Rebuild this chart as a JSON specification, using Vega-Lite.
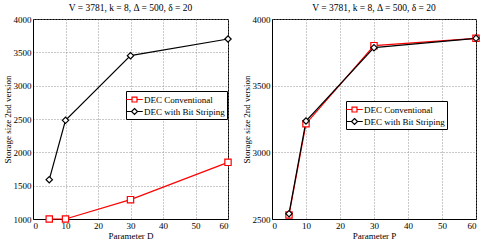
{
  "$schema": "https://vega.github.io/schema/vega-lite/v6.json",
  "padding": {"left": 2, "top": 2, "right": 4, "bottom": 0},
  "background": "white",
  "datasets": {
    "d": [
      {"x": 5, "y": 1000, "s": "DEC Conventional"},
      {"x": 10, "y": 1000, "s": "DEC Conventional"},
      {"x": 30, "y": 1290, "s": "DEC Conventional"},
      {"x": 60, "y": 1850, "s": "DEC Conventional"},
      {"x": 5, "y": 1590, "s": "DEC with Bit Striping"},
      {"x": 10, "y": 2480, "s": "DEC with Bit Striping"},
      {"x": 30, "y": 3450, "s": "DEC with Bit Striping"},
      {"x": 60, "y": 3700, "s": "DEC with Bit Striping"}
    ],
    "p": [
      {"x": 5, "y": 2530, "s": "DEC Conventional"},
      {"x": 10, "y": 3215, "s": "DEC Conventional"},
      {"x": 30, "y": 3800, "s": "DEC Conventional"},
      {"x": 60, "y": 3855, "s": "DEC Conventional"},
      {"x": 5, "y": 2540, "s": "DEC with Bit Striping"},
      {"x": 10, "y": 3235, "s": "DEC with Bit Striping"},
      {"x": 30, "y": 3785, "s": "DEC with Bit Striping"},
      {"x": 60, "y": 3855, "s": "DEC with Bit Striping"}
    ]
  },
  "config": {
    "font": "Liberation Serif",
    "view": {"stroke": "black", "strokeWidth": 1},
    "title": {"font": "Liberation Serif", "fontSize": 9.5, "fontWeight": "normal", "offset": 3, "color": "black"},
    "axis": {
      "labelFont": "Liberation Serif", "labelFontSize": 9, "labelColor": "black",
      "titleFont": "Liberation Serif", "titleFontSize": 9, "titleFontWeight": "normal", "titleColor": "black",
      "gridDash": [1, 2], "gridColor": "#888", "gridOpacity": 0.9,
      "tickColor": "black", "domainColor": "black", "tickSize": 0, "labelPadding": 2, "titlePadding": 1, "format": "d"
    },
    "legend": {
      "labelFont": "Liberation Serif", "labelFontSize": 9, "labelColor": "black",
      "strokeColor": "black", "fillColor": "white", "padding": 2, "rowPadding": 0, "labelOffset": 3,
      "symbolSize": 121, "symbolStrokeWidth": 1.2, "title": null
    }
  },
  "spacing": 6,
  "resolve": {"scale": {"y": "independent", "x": "independent", "color": "independent"}, "legend": {"color": "independent"}},
  "hconcat": [
    {
      "width": 195, "height": 200,
      "title": "V = 3781, k = 8, Δ = 500, δ = 20",
      "data": {"name": "d"},
      "encoding": {
        "x": {"field": "x", "type": "quantitative", "scale": {"domain": [0, 60], "nice": false}, "axis": {"values": [0, 10, 20, 30, 40, 50, 60], "title": "Parameter D"}},
        "y": {"field": "y", "type": "quantitative", "scale": {"domain": [1000, 4000], "nice": false}, "axis": {"values": [1000, 1500, 2000, 2500, 3000, 3500, 4000], "title": "Storage size 2nd version"}},
        "color": {"field": "s", "type": "nominal", "scale": {"domain": ["DEC Conventional", "DEC with Bit Striping"], "range": ["#ff0000", "#000000"]},
          "legend": {"orient": "none", "legendX": 93, "legendY": 72,
            "encode": {"symbols": {"update": {"fill": {"value": "white"}, "fillOpacity": {"value": 0}, "shape": {"signal": "datum.value === 'DEC Conventional' ? 'M-1.5,0H-0.45M0.45,0H1.5M-0.45,-0.45H0.45V0.45H-0.45Z' : 'M-1.5,0H-0.55M0.55,0H1.5M0,-0.55L0.55,0L0,0.55L-0.55,0Z'"}}}}}}
      },
      "layer": [
        {"mark": {"type": "line", "strokeWidth": 1.2}},
        {"mark": {"type": "point", "filled": false, "fill": "white", "fillOpacity": 1, "size": 40, "strokeWidth": 1.2, "opacity": 1},
          "encoding": {"shape": {"condition": {"test": "datum.s === 'DEC Conventional'", "value": "square"}, "value": "diamond"}}}
      ]
    },
    {
      "width": 204, "height": 200,
      "title": "V = 3781, k = 8, Δ = 500, δ = 20",
      "data": {"name": "p"},
      "encoding": {
        "x": {"field": "x", "type": "quantitative", "scale": {"domain": [0, 60], "nice": false}, "axis": {"values": [0, 10, 20, 30, 40, 50, 60], "title": "Parameter P"}},
        "y": {"field": "y", "type": "quantitative", "scale": {"domain": [2500, 4000], "nice": false}, "axis": {"values": [2500, 3000, 3500, 4000], "title": "Storage size 2nd version"}},
        "color": {"field": "s", "type": "nominal", "scale": {"domain": ["DEC Conventional", "DEC with Bit Striping"], "range": ["#ff0000", "#000000"]},
          "legend": {"orient": "none", "legendX": 74, "legendY": 82,
            "encode": {"symbols": {"update": {"fill": {"value": "white"}, "fillOpacity": {"value": 0}, "shape": {"signal": "datum.value === 'DEC Conventional' ? 'M-1.5,0H-0.45M0.45,0H1.5M-0.45,-0.45H0.45V0.45H-0.45Z' : 'M-1.5,0H-0.55M0.55,0H1.5M0,-0.55L0.55,0L0,0.55L-0.55,0Z'"}}}}}}
      },
      "layer": [
        {"mark": {"type": "line", "strokeWidth": 1.2}},
        {"mark": {"type": "point", "filled": false, "fill": "white", "fillOpacity": 1, "size": 40, "strokeWidth": 1.2, "opacity": 1},
          "encoding": {"shape": {"condition": {"test": "datum.s === 'DEC Conventional'", "value": "square"}, "value": "diamond"}}}
      ]
    }
  ]
}
